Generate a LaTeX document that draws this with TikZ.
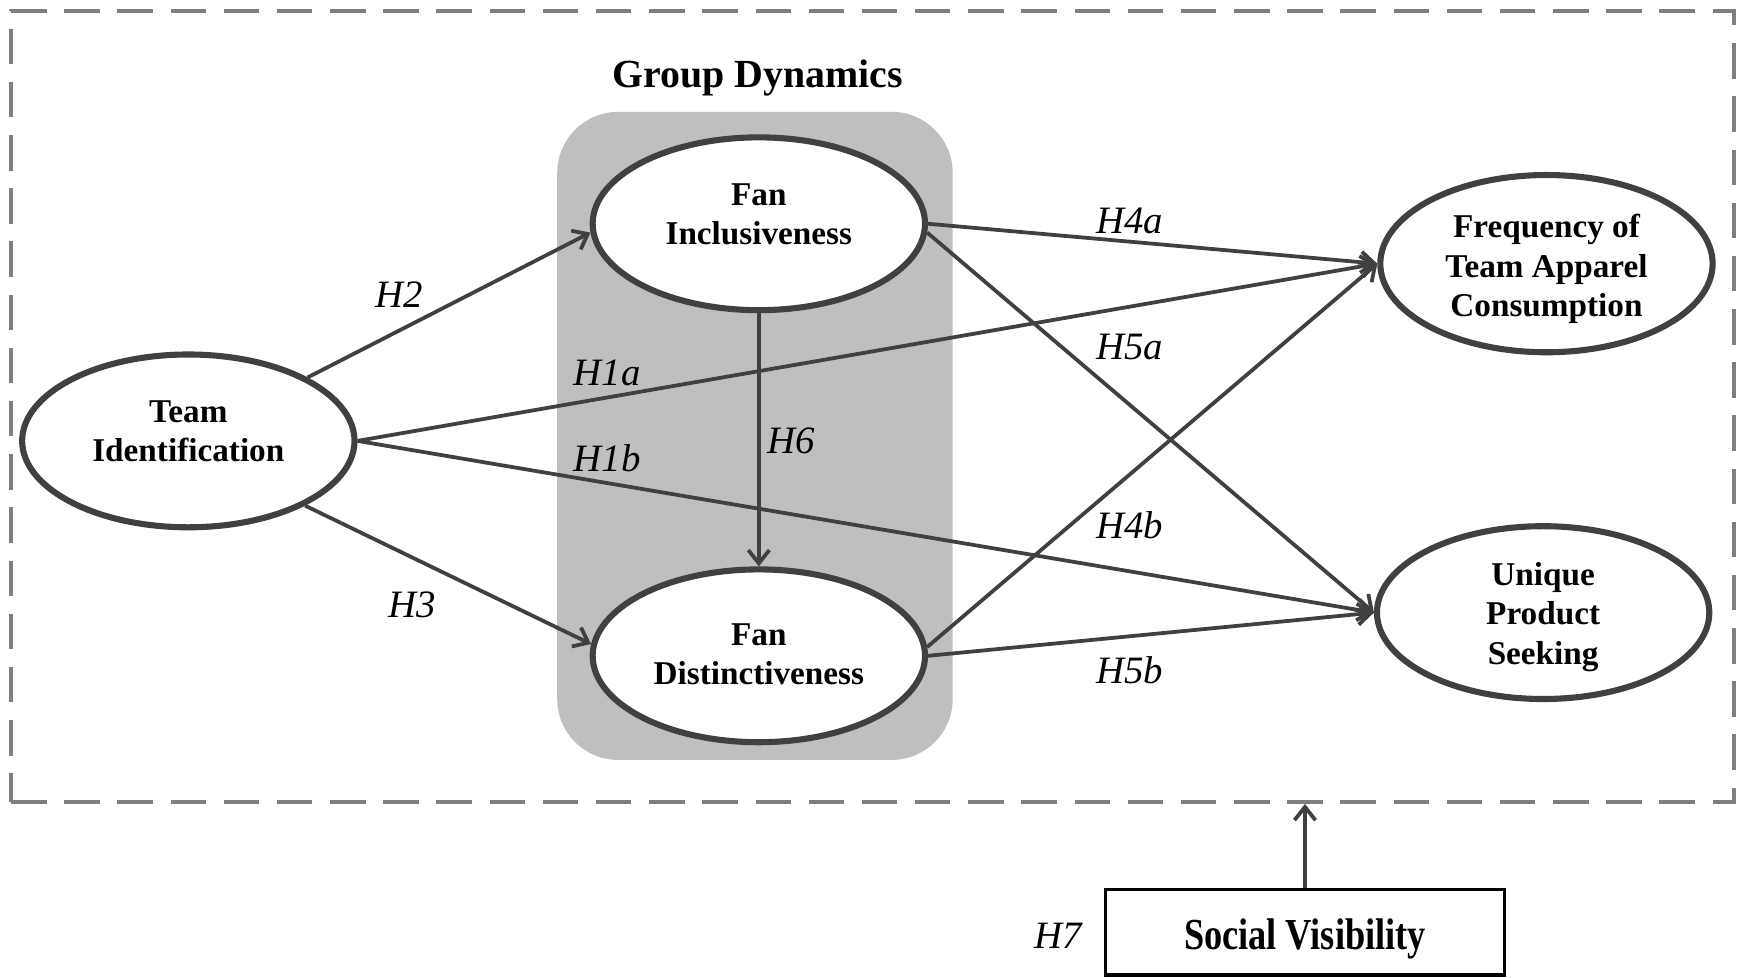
\documentclass[tikz,border=0pt]{standalone}
\usepackage{fontspec}
\setmainfont{Liberation Serif}
\newfontfamily\condserif[FakeStretch=0.82]{Liberation Serif}
\usetikzlibrary{shapes.geometric,arrows.meta}
\definecolor{edgegray}{HTML}{404040}
\definecolor{boxgray}{HTML}{BFBFBF}
\definecolor{framegray}{HTML}{7F7F7F}
% stacked lines, lifted by #1 without changing the box size
\newcommand{\liftlines}[2]{\raisebox{#1}[\height][\depth]{\begin{tabular}{@{}c@{}}#2\end{tabular}}}
\begin{document}
\begin{tikzpicture}[x=1pt,y=-1pt,
  construct/.style={ellipse, draw=edgegray, line width=5.5pt, fill=white,
    minimum width=300pt, minimum height=156pt, inner sep=0pt,
    font=\bfseries\fontsize{30}{35.5}\selectfont},
  link/.style={draw=edgegray, line width=3.4pt,
    -{Straight Barb[length=12pt,width=19pt]}},
  hyp/.style={font=\itshape\fontsize{35}{35}\selectfont, inner sep=0pt}
]
\useasboundingbox (0,0) rectangle (1568,882);

% moderated region
\node[draw=framegray, line width=3.4pt, dash pattern=on 32pt off 16pt,
  minimum width=1555pt, minimum height=714pt, inner sep=0pt] (frame) at (787.5,367) {};

% group dynamics block
\node[fill=boxgray, rounded corners=55pt, minimum width=357pt,
  minimum height=585pt, inner sep=0pt] (group) at (681.5,393.5) {};
\node[font=\bfseries\fontsize{36}{36}\selectfont] (title) at (684,70) {Group Dynamics};

% constructs
\node[construct] (ti) at (170,398) {\liftlines{6pt}{Team\\Identification}};
\node[construct] (fi) at (685,202) {\liftlines{6pt}{Fan\\Inclusiveness}};
\node[construct] (fd) at (685,592) {\liftlines{-1pt}{Fan\\Distinctiveness}};
\node[construct, minimum height=160pt] (fr) at (1396,238)
  {\liftlines{-5pt}{Frequency of\\Team Apparel\\Consumption}};
\node[construct] (ups) at (1393,553) {\liftlines{-4pt}{Unique\\Product\\Seeking}};

% moderator
\node[draw=black, line width=3.2pt, minimum width=360pt, minimum height=77pt,
  inner sep=0pt, font=\condserif\bfseries\fontsize{40}{40}\selectfont] (sv) at (1178,841.5)
  {\raisebox{-6pt}[\height][\depth]{Social Visibility}};

% paths
\draw[link] (ti.28) -- (fi.183);
\draw[link] (ti.-29) -- (fd.176);
\draw[link] (ti.east) -- (fr.west);
\draw[link] (ti.east) -- (ups.west);
\draw[link] (fi.south) -- (fd.north);
\draw[link] (fi.east) -- (fr.west);
\draw[link] (fi.-3) -- (ups.west);
\draw[link] (fd.3) -- (fr.west);
\draw[link] (fd.east) -- (ups.west);
\draw[link] (sv.north) -- (sv.north |- frame.south);

% hypothesis labels
\node[hyp] (h2) at (360,266) {H2};
\node[hyp] (h3) at (372,546) {H3};
\node[hyp] (h1a) at (548,337) {H1a};
\node[hyp] (h1b) at (548,414) {H1b};
\node[hyp] (h6) at (714,398) {H6};
\node[hyp] (h4a) at (1020,199) {H4a};
\node[hyp] (h5a) at (1020,313) {H5a};
\node[hyp] (h4b) at (1020,474) {H4b};
\node[hyp] (h5b) at (1020,605) {H5b};
\node[hyp] (h7) at (955,845) {H7};
\end{tikzpicture}
\end{document}
